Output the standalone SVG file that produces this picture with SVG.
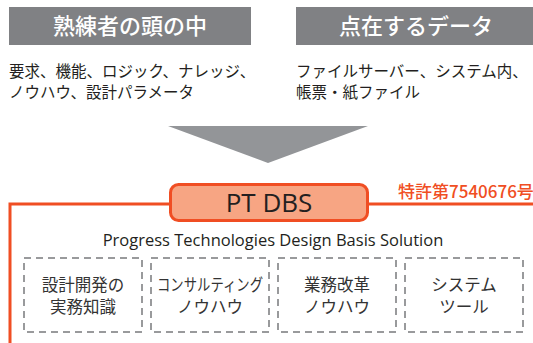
<svg xmlns="http://www.w3.org/2000/svg" width="533" height="343" viewBox="0 0 533 343">
<style>
.hdr{fill:#808184}
.hdrt{font-family:"Noto Sans CJK JP",sans-serif;font-size:22px;fill:#ffffff;text-anchor:middle;font-weight:500}
.body{font-family:"Noto Sans CJK JP",sans-serif;font-size:15.5px;fill:#231f20}
.dbox{fill:none;stroke:#999a9c;stroke-width:2;stroke-dasharray:7,5}
.dt{font-family:"Noto Sans CJK JP",sans-serif;font-size:16.5px;fill:#333333;text-anchor:middle}
.ln{fill:none;stroke:#f04e23;stroke-width:3}
</style>
<rect width="533" height="343" fill="#ffffff"/>
<g id="head-left">
<rect class="hdr" x="9" y="7" width="242" height="38"/>
<text class="hdrt" x="130" y="34">熟練者の頭の中</text>
</g>
<g id="head-right">
<rect class="hdr" x="296" y="7" width="237" height="38"/>
<text class="hdrt" x="416" y="34">点在するデータ</text>
</g>
<g id="text-left">
<text class="body" x="9" y="77">要求、機能、ロジック、ナレッジ、</text>
<text class="body" x="9" y="98">ノウハウ、設計パラメータ</text>
</g>
<g id="text-right">
<text class="body" x="296" y="77">ファイルサーバー、システム内、</text>
<text class="body" x="296" y="98">帳票・紙ファイル</text>
</g>
<g id="arrow">
<polygon points="168,126 368,126 268,163" fill="#939598"/>
</g>
<g id="connectors">
<polyline class="ln" points="170,204 10,204 10,343"/>
<line class="ln" x1="368" y1="204" x2="533" y2="204"/>
</g>
<g id="ptdbs">
<rect x="170.5" y="184.5" width="197" height="36" rx="8" fill="#f7a583" stroke="#f04e23" stroke-width="3"/>
<text x="269" y="212" font-family="Open Sans, sans-serif" font-size="26" fill="#231f20" text-anchor="middle">PT DBS</text>
</g>
<g id="patent">
<text x="398" y="198" font-family="Noto Sans CJK JP, sans-serif" font-size="17" font-weight="500" fill="#f04e23">特許第7540676号</text>
</g>
<g id="subtitle">
<text x="273" y="246" font-family="Open Sans, sans-serif" font-size="16.5" fill="#231f20" text-anchor="middle">Progress Technologies Design Basis Solution</text>
</g>
<g id="box1">
<rect class="dbox" x="24" y="258" width="118" height="74"/>
<text class="dt" x="83" y="291">設計開発の</text>
<text class="dt" x="83" y="313">実務知識</text>
</g>
<g id="box2">
<rect class="dbox" x="151" y="258" width="118" height="74"/>
<text class="dt" x="210" y="291" textLength="106" lengthAdjust="spacingAndGlyphs">コンサルティング</text>
<text class="dt" x="210" y="313">ノウハウ</text>
</g>
<g id="box3">
<rect class="dbox" x="278" y="258" width="118" height="74"/>
<text class="dt" x="337" y="291">業務改革</text>
<text class="dt" x="337" y="313">ノウハウ</text>
</g>
<g id="box4">
<rect class="dbox" x="405" y="258" width="118" height="74"/>
<text class="dt" x="464" y="291">システム</text>
<text class="dt" x="464" y="313">ツール</text>
</g>
</svg>
